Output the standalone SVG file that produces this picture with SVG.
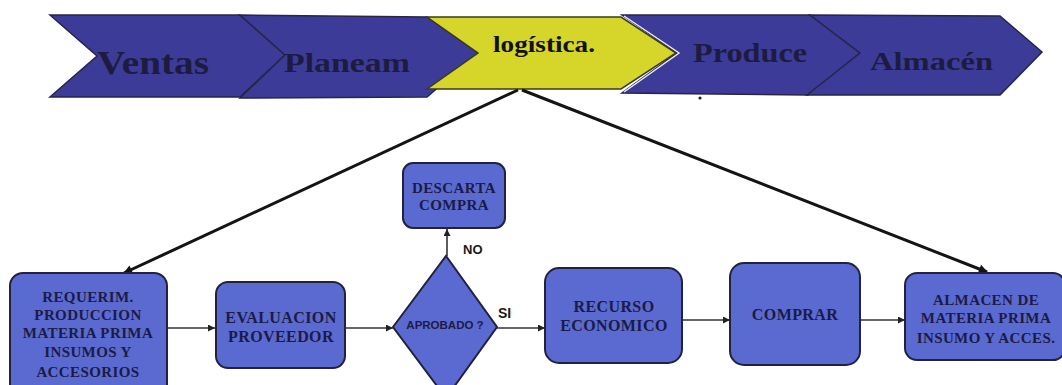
<svg xmlns="http://www.w3.org/2000/svg" width="1062" height="385" viewBox="0 0 1062 385">
  <defs>
    <style>
      .chev { fill: #3c3b98; stroke: #26264a; stroke-width: 1.5; stroke-linejoin: miter; }
      .chev-hi { fill: #d6d52a; stroke: #3a3a20; stroke-width: 1.5; }
      .chev-txt { font-family: "Liberation Serif", "Times New Roman", serif; font-weight: bold; fill: #1d1c40; }
      .box { fill: #5a6ad0; stroke: #22223e; stroke-width: 2; }
      .box-txt { font-family: "Liberation Serif", "Times New Roman", serif; font-weight: bold; font-size: 15px; letter-spacing: 0.4px; fill: #1b1b45; text-anchor: middle; }
      .lbl { font-family: "Liberation Sans", Arial, sans-serif; font-weight: bold; fill: #1a1a1a; }
      .flow { stroke: #333; stroke-width: 1.6; fill: none; marker-end: url(#tip); }
      .main { stroke: #141414; stroke-width: 3; fill: none; marker-end: url(#tipBig); }
    </style>
    <marker id="tip" viewBox="0 0 10 10" refX="10" refY="5" markerWidth="7" markerHeight="7" markerUnits="userSpaceOnUse" orient="auto">
      <path d="M0,0 L10,5 L0,10 z" fill="#222"/>
    </marker>
    <marker id="tipBig" viewBox="0 0 10 10" refX="9" refY="5" markerWidth="13" markerHeight="9" markerUnits="userSpaceOnUse" orient="auto">
      <path d="M0,0 L10,5 L0,10 z" fill="#141414"/>
    </marker>
  </defs>

  <rect width="1062" height="385" fill="#ffffff"/>

  <!-- process chevrons -->
  <g id="ventas">
    <polygon class="chev" points="50,15 240,15 285,55 240,97 50,97 97,56"/>
    <text class="chev-txt" x="97" y="74" font-size="33" textLength="112" lengthAdjust="spacingAndGlyphs">Ventas</text>
  </g>
  <g id="planeam">
    <polygon class="chev" points="240,15 427,17 478,53 427,97 240,98 285,55"/>
    <text class="chev-txt" x="284" y="72" font-size="27" textLength="126" lengthAdjust="spacingAndGlyphs">Planeam</text>
  </g>
  <g id="produce">
    <polygon class="chev" points="622,15 810,15 860,53 808,95 622,93 677,53"/>
    <text class="chev-txt" x="693" y="62" font-size="28" textLength="114" lengthAdjust="spacingAndGlyphs">Produce</text>
    <polyline points="624,16 679,53 624,92" fill="none" stroke="#e8e8f0" stroke-width="1.5"/>
  </g>
  <g id="almacen">
    <polygon class="chev" points="810,15 1000,16 1042,52 1000,95 807,95 860,53"/>
    <text class="chev-txt" x="870" y="70" font-size="25" textLength="123" lengthAdjust="spacingAndGlyphs">Almacén</text>
  </g>
  <g id="logistica">
    <polygon class="chev-hi" points="427,17 621,17 676,53 621,89 427,89 478,53"/>
    <text class="chev-txt" x="493" y="52" font-size="24" style="fill:#111" textLength="102" lengthAdjust="spacingAndGlyphs">logística.</text>
  </g>
  <circle cx="700" cy="98" r="1.6" fill="#222"/>

  <!-- connectors -->
  <g id="connectors">
    <line class="main" x1="518" y1="90" x2="124" y2="273"/>
    <line class="main" x1="522" y1="90" x2="987" y2="272"/>
    <line class="flow" x1="167" y1="328" x2="215" y2="328"/>
    <line class="flow" x1="345" y1="328" x2="393" y2="328"/>
    <line class="flow" x1="447" y1="256" x2="447" y2="229"/>
    <line class="flow" x1="497" y1="328" x2="545" y2="328"/>
    <line class="flow" x1="682" y1="320" x2="730" y2="320"/>
    <line class="flow" x1="860" y1="320" x2="905" y2="320"/>
    <text class="lbl" x="463" y="254" font-size="13">NO</text>
    <text class="lbl" x="498" y="318" font-size="14">SI</text>
  </g>

  <!-- flow nodes -->
  <g id="requerim">
    <rect class="box" x="10" y="273" width="157" height="125" rx="13"/>
    <text class="box-txt" x="88" y="302">REQUERIM.</text>
    <text class="box-txt" x="88" y="320">PRODUCCION</text>
    <text class="box-txt" x="88" y="338">MATERIA PRIMA</text>
    <text class="box-txt" x="88" y="357">INSUMOS Y</text>
    <text class="box-txt" x="88" y="377">ACCESORIOS</text>
  </g>
  <g id="evaluacion">
    <rect class="box" x="216" y="282" width="129" height="86" rx="12"/>
    <text class="box-txt" x="281" y="323" style="font-size:16px">EVALUACION</text>
    <text class="box-txt" x="281" y="342" style="font-size:16px">PROVEEDOR</text>
  </g>
  <g id="aprobado">
    <polygon class="box" points="393,327 446,256 497,327 446,398"/>
    <text class="lbl" x="445" y="329" font-size="11.5" text-anchor="middle" style="fill:#1b1b45">APROBADO ?</text>
  </g>
  <g id="descarta">
    <rect class="box" x="403" y="163" width="102" height="65" rx="10"/>
    <text class="box-txt" x="454" y="193">DESCARTA</text>
    <text class="box-txt" x="454" y="210">COMPRA</text>
  </g>
  <g id="recurso">
    <rect class="box" x="545" y="268" width="137" height="95" rx="14"/>
    <text class="box-txt" x="614" y="312" style="font-size:16px">RECURSO</text>
    <text class="box-txt" x="614" y="331" style="font-size:16px">ECONOMICO</text>
  </g>
  <g id="comprar">
    <rect class="box" x="730" y="263" width="130" height="102" rx="14"/>
    <text class="box-txt" x="795" y="320" style="font-size:16px">COMPRAR</text>
  </g>
  <g id="almacen-mp">
    <rect class="box" x="905" y="273" width="160" height="87" rx="12"/>
    <text class="box-txt" x="986" y="305">ALMACEN DE</text>
    <text class="box-txt" x="986" y="323">MATERIA PRIMA</text>
    <text class="box-txt" x="986" y="343">INSUMO Y ACCES.</text>
  </g>
</svg>
